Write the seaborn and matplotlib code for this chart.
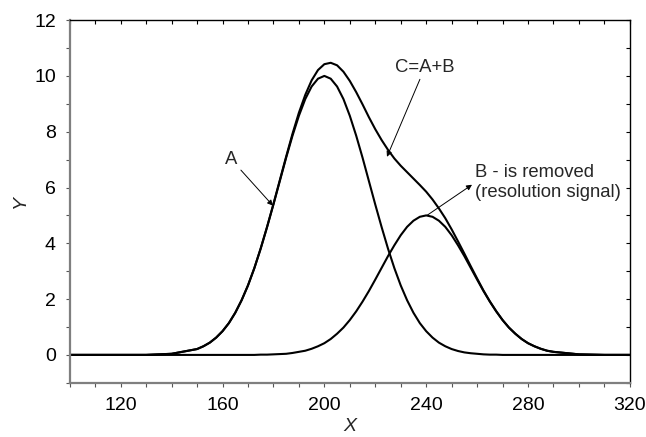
"""
Decomposition of an overlapping signal: C = A + B.
"""
import pandas as pd
import matplotlib
matplotlib.use("Agg")
import matplotlib.pyplot as plt
from matplotlib.ticker import MultipleLocator, NullFormatter
import seaborn as sns

# values
x_vals = [100, 110, 120, 130, 140,
          150, 152.5, 155, 157.5, 160, 162.5, 165, 167.5, 170, 172.5,
          175, 177.5, 180, 182.5, 185, 187.5, 190, 192.5, 195, 197.5,
          200, 202.5, 205, 207.5, 210, 212.5, 215, 217.5, 220, 222.5,
          225, 227.5, 230, 232.5, 235, 237.5, 240, 242.5, 245, 247.5,
          250, 252.5, 255, 257.5, 260, 262.5, 265, 267.5, 270, 272.5,
          275, 277.5, 280, 282.5, 285, 287.5, 290,
          300, 310, 320]

a_vals = [0, 0, 0, 0, 0.04,
          0.21, 0.31, 0.44, 0.62, 0.85, 1.14, 1.51, 1.96, 2.49, 3.11,
          3.81, 4.58, 5.39, 6.23, 7.07, 7.86, 8.57, 9.17, 9.62, 9.90,
          10.00, 9.90, 9.62, 9.17, 8.57, 7.86, 7.07, 6.23, 5.39, 4.58,
          3.81, 3.11, 2.49, 1.96, 1.51, 1.14, 0.85, 0.62, 0.44, 0.31,
          0.21, 0.14, 0.09, 0.06, 0.04, 0.02, 0.01, 0.01, 0, 0,
          0, 0, 0, 0, 0, 0, 0,
          0, 0, 0]

b_vals = [0, 0, 0, 0, 0,
          0, 0, 0, 0, 0, 0, 0, 0, 0, 0,
          0.01, 0.01, 0.02, 0.03, 0.04, 0.07, 0.11, 0.15, 0.22, 0.31,
          0.42, 0.57, 0.76, 0.98, 1.25, 1.56, 1.91, 2.29, 2.70, 3.12,
          3.54, 3.93, 4.29, 4.59, 4.81, 4.95, 5.00, 4.95, 4.81, 4.59,
          4.29, 3.93, 3.54, 3.12, 2.70, 2.29, 1.91, 1.56, 1.25, 0.98,
          0.76, 0.57, 0.42, 0.31, 0.22, 0.15, 0.11,
          0.02, 0, 0]

c_vals = [0, 0, 0, 0, 0.04,
          0.21, 0.31, 0.44, 0.62, 0.85, 1.14, 1.51, 1.96, 2.49, 3.11,
          3.82, 4.59, 5.41, 6.26, 7.11, 7.93, 8.68, 9.32, 9.84, 10.21,
          10.42, 10.47, 10.38, 10.15, 9.82, 9.42, 8.98, 8.52, 8.09, 7.70,
          7.35, 7.04, 6.78, 6.55, 6.32, 6.09, 5.85, 5.57, 5.25, 4.90,
          4.50, 4.07, 3.63, 3.18, 2.74, 2.31, 1.92, 1.57, 1.25, 0.98,
          0.76, 0.57, 0.42, 0.31, 0.22, 0.15, 0.11,
          0.02, 0, 0]

x_ticks = [120, 160, 200, 240, 280, 320]
y_ticks = [0, 2, 4, 6, 8, 10, 12]

df = pd.DataFrame({"x": x_vals, "A": a_vals, "B": b_vals, "C": c_vals})

sns.set_style("ticks")
plt.rcParams["font.family"] = ["Liberation Sans", "DejaVu Sans"]
FS = 14
FS_NOTE = 13.3

fig = plt.figure(figsize=(6.46, 4.37), dpi=100)
ax = fig.add_axes([0.108, 0.124, 0.867, 0.830])

for col in ["A", "B", "C"]:
    sns.lineplot(data=df, x="x", y=col, color="black", linewidth=1.5, ax=ax)

ax.set_xlim(100, 320)
ax.set_ylim(-1, 12)
ax.set_xticks(x_ticks)
ax.set_yticks(y_ticks)
ax.xaxis.set_minor_locator(MultipleLocator(10))
ax.yaxis.set_minor_locator(MultipleLocator(1))

# left / bottom : grey, ticks outside
for side in ["left", "bottom"]:
    ax.spines[side].set_color("#7f7f7f")
    ax.spines[side].set_linewidth(1.6)
for side in ["top", "right"]:
    ax.spines[side].set_visible(True)
    ax.spines[side].set_color("black")
    ax.spines[side].set_linewidth(1.0)

ax.tick_params(axis="both", which="both", direction="out", length=3, width=0.8,
               color="#555555", labelsize=FS, labelcolor="black", pad=7)

# top / right : black, ticks inside, no labels
top = ax.secondary_xaxis("top")
top.set_xticks(x_ticks)
top.xaxis.set_minor_locator(MultipleLocator(10))
top.xaxis.set_major_formatter(NullFormatter())
top.tick_params(which="both", direction="in", length=3, width=0.8, color="black")
top.spines["top"].set_visible(False)

right = ax.secondary_yaxis("right")
right.set_yticks(y_ticks)
right.yaxis.set_minor_locator(MultipleLocator(1))
right.yaxis.set_major_formatter(NullFormatter())
right.tick_params(which="both", direction="in", length=3, width=0.8, color="black")
right.spines["right"].set_visible(False)

ax.set_xlabel("X", fontsize=FS, style="italic", labelpad=3)
ax.set_ylabel("Y", fontsize=FS, style="italic", labelpad=4)

arrow = dict(arrowstyle="-|>", color="black", lw=0.7, mutation_scale=8,
             shrinkA=0, shrinkB=0)
ax.annotate("A", xy=(179.8, 5.35), xytext=(163.5, 7.0), fontsize=FS_NOTE,
            ha="center", va="center", arrowprops=arrow)
ax.annotate("C=A+B", xy=(224.6, 7.1), xytext=(239.5, 10.3), fontsize=FS_NOTE,
            ha="center", va="center", arrowprops=arrow)
ax.annotate("", xy=(258, 6.1), xytext=(240.3, 5.0), arrowprops=arrow)
ax.text(259, 6.17, "B - is removed\n(resolution signal)", fontsize=FS_NOTE,
        ha="left", va="center", linespacing=1.2)

fig.savefig("out.png", dpi=100)
plt.close(fig)
